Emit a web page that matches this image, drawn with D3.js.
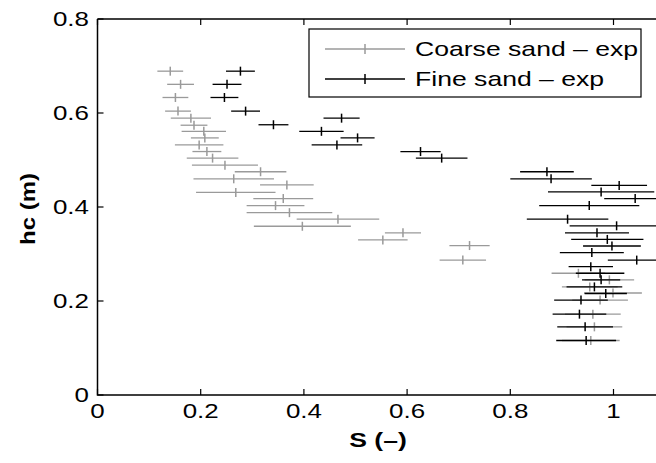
<!DOCTYPE html>
<html><head><meta charset="utf-8">
<script src="https://cdn.jsdelivr.net/npm/d3@7"></script>
<style>html,body{margin:0;padding:0;background:#fff;}svg{display:block;}</style>
</head><body>
<script>
// Coarse sand – exp
const coarseS   = [0.141,0.161,0.151,0.156,0.181,0.187,0.206,0.208,0.197,0.212,0.223,0.247,0.316,0.264,0.367,0.268,0.360,0.345,0.372,0.466,0.397,0.592,0.553,0.721,0.708,0.932,0.992,0.954,0.999,0.974,0.960,0.963,0.956];
const coarseHc  = [0.689,0.661,0.633,0.604,0.589,0.574,0.561,0.547,0.532,0.518,0.504,0.489,0.475,0.460,0.447,0.431,0.418,0.403,0.388,0.374,0.359,0.345,0.330,0.318,0.287,0.259,0.245,0.230,0.217,0.202,0.172,0.145,0.116];
const coarseErr = [0.025,0.026,0.025,0.025,0.039,0.026,0.043,0.027,0.047,0.028,0.050,0.064,0.050,0.078,0.052,0.077,0.058,0.056,0.083,0.080,0.094,0.035,0.048,0.039,0.045,0.052,0.048,0.054,0.056,0.054,0.054,0.054,0.056];
// Fine sand – exp
const fineS   = [0.277,0.251,0.246,0.287,0.473,0.341,0.434,0.504,0.464,0.626,0.667,0.871,0.879,1.011,0.976,1.042,0.953,0.911,1.006,0.968,0.988,0.997,0.958,1.045,0.956,0.974,0.976,0.963,0.985,0.937,0.934,0.945,0.947];
const fineHc  = [0.689,0.661,0.633,0.604,0.589,0.575,0.561,0.547,0.532,0.518,0.504,0.475,0.460,0.446,0.432,0.418,0.403,0.374,0.360,0.345,0.331,0.317,0.303,0.287,0.273,0.259,0.245,0.230,0.216,0.202,0.172,0.145,0.116];
const fineErr = [0.028,0.028,0.027,0.028,0.035,0.029,0.043,0.033,0.049,0.039,0.050,0.052,0.079,0.054,0.103,0.060,0.097,0.079,0.091,0.062,0.070,0.056,0.062,0.056,0.043,0.047,0.037,0.054,0.041,0.052,0.052,0.054,0.058];

const xTicks = [0,0.2,0.4,0.6,0.8,1];
const yTicks = [0,0.2,0.4,0.6,0.8];
const seriesNames = ["Coarse sand \u2013 exp","Fine sand \u2013 exp"];
const xLabel = "S (\u2013)";
const yLabel = "hc (m)";

const W = 656, H = 463;
const SX = 1.33; // horizontal text stretch
const x = d3.scaleLinear().domain([0,1.1]).range([97.5, 97.5 + 1.1*516]);
const y = d3.scaleLinear().domain([0,0.8]).range([395, 19]);

const svg = d3.select("body").append("svg").attr("width",W).attr("height",H);

const series = [
  {name: seriesNames[0], color: "#9a9a9a", S: coarseS, hc: coarseHc, err: coarseErr},
  {name: seriesNames[1], color: "#000000", S: fineS,   hc: fineHc,   err: fineErr}
];

const plot = svg.append("g");
series.forEach(s => {
  const pts = s.S.map((v,i)=>({s:v, h:s.hc[i], e:s.err[i]}));
  const g = plot.append("g");
  g.selectAll("line.bar").data(pts).join("line")
    .attr("x1", d=>x(d.s-d.e)).attr("x2", d=>x(d.s+d.e))
    .attr("y1", d=>y(d.h)).attr("y2", d=>y(d.h))
    .attr("stroke", s.color).attr("stroke-width", 1.3);
  g.selectAll("line.tk").data(pts).join("line")
    .attr("x1", d=>x(d.s)).attr("x2", d=>x(d.s))
    .attr("y1", d=>y(d.h)-4.5).attr("y2", d=>y(d.h)+4.5)
    .attr("stroke", s.color).attr("stroke-width", 1.5);
});

// axes box
const ax = svg.append("g").attr("stroke","#000").attr("fill","none");
const x0 = x(0), x1 = x(1.1), y0 = y(0), y1 = y(0.8);
ax.append("path").attr("d",`M${x0},${y1}V${y0}H${x1}M${x0},${y1}H${x1}V${y0}`).attr("stroke-width",1.5);
xTicks.forEach(t=>{
  ax.append("line").attr("x1",x(t)).attr("x2",x(t)).attr("y1",y0).attr("y2",y0-6).attr("stroke-width",1.2);
  ax.append("line").attr("x1",x(t)).attr("x2",x(t)).attr("y1",y1).attr("y2",y1+6).attr("stroke-width",1.2);
});
yTicks.forEach(t=>{
  ax.append("line").attr("x1",x0).attr("x2",x0+6).attr("y1",y(t)).attr("y2",y(t)).attr("stroke-width",1.2);
  ax.append("line").attr("x1",x1).attr("x2",x1-6).attr("y1",y(t)).attr("y2",y(t)).attr("stroke-width",1.2);
});

function stext(px, py, str, opts) {
  const g = svg.append("g").attr("transform", `translate(${px},${py}) ${opts.rot?`rotate(${opts.rot})`:""} scale(${opts.sx||SX},1)`);
  g.append("text").text(str)
    .attr("font-family","Liberation Sans, Arial, sans-serif")
    .attr("font-size", opts.size||20)
    .attr("font-weight", opts.bold?"bold":"normal")
    .attr("text-anchor", opts.anchor||"middle")
    .attr("dy","0.36em")
    .attr("fill","#000");
}
const fmt = d => d===0||d===1 ? String(d) : d.toFixed(1);
xTicks.forEach(t=> stext(x(t), 411, fmt(t), {size:19.5}));
yTicks.forEach(t=> stext(89, y(t), fmt(t), {size:19.5, anchor:"end"}));
stext(378, 440, xLabel, {size:20, bold:true});
stext(27, 209, yLabel, {size:21, bold:true, rot:-90, sx:1.14});

// legend
const lg = svg.append("g");
lg.append("rect").attr("x",309).attr("y",29).attr("width",332).attr("height",68)
  .attr("fill","#fff").attr("stroke","#000").attr("stroke-width",1.2);
series.forEach((s,i)=>{
  const ly = 49 + i*30;
  lg.append("line").attr("x1",325).attr("x2",405).attr("y1",ly).attr("y2",ly).attr("stroke",s.color).attr("stroke-width",1.3);
  lg.append("line").attr("x1",365).attr("x2",365).attr("y1",ly-5).attr("y2",ly+5).attr("stroke",s.color).attr("stroke-width",1.5);
  stext(415, ly, s.name, {size:20, anchor:"start"});
});
</script>
</body></html>
